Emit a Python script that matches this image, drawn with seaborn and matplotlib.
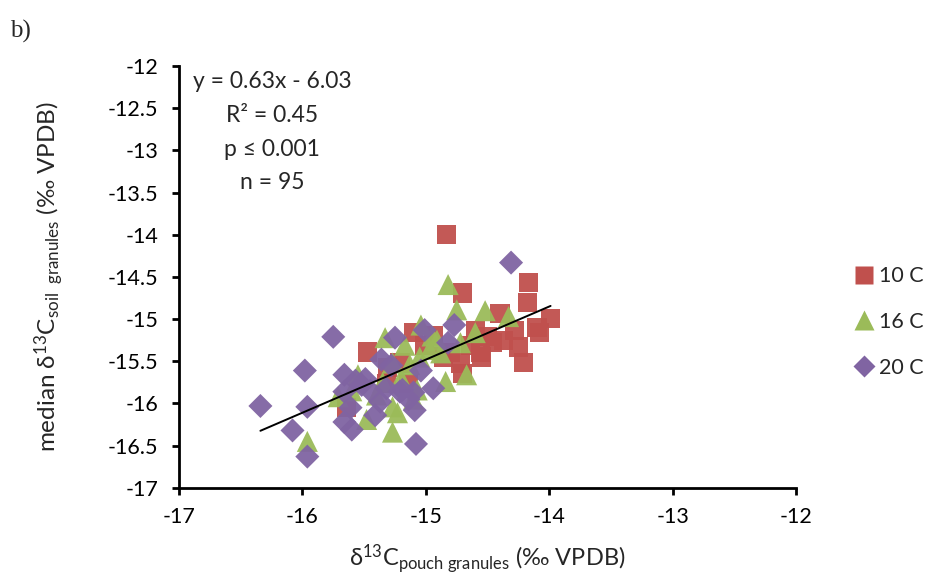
import matplotlib
matplotlib.use("Agg")
import matplotlib.pyplot as plt
import seaborn as sns
import pandas as pd
import numpy as np
from matplotlib.lines import Line2D

# ---- data ----
x_10C = [-14.83, -14.70, -14.17, -14.18, -14.40, -13.99, -14.10, -14.25, -14.21,
         -15.10, -14.94, -14.86, -14.72, -14.56, -14.46, -14.60, -15.31, -15.14,
         -15.47, -15.32, -15.64, -15.21, -14.70, -14.37, -14.08, -14.50, -14.64,
         -15.01, -14.28, -14.80, -14.55]
y_10C = [-14.00, -14.69, -14.57, -14.80, -14.93, -14.99, -15.10, -15.33, -15.51,
         -15.16, -15.19, -15.45, -15.52, -15.39, -15.28, -15.13, -15.57, -15.76,
         -15.39, -15.76, -16.05, -15.52, -15.64, -15.25, -15.16, -15.21, -15.31,
         -15.31, -15.13, -15.40, -15.45]

x_16C = [-15.96, -15.71, -15.48, -15.27, -15.27, -15.33, -15.27, -15.23, -14.82,
         -14.75, -14.52, -14.33, -15.04, -14.91, -14.60, -14.67, -14.84, -15.17,
         -15.07, -14.72, -15.13, -14.97, -15.55, -15.40, -15.20, -14.88, -15.10,
         -15.60, -14.95, -15.35, -15.05]
y_16C = [-16.45, -15.92, -16.19, -16.34, -16.04, -15.22, -15.52, -16.11, -14.59,
         -14.89, -14.90, -14.97, -15.07, -15.25, -15.16, -15.66, -15.74, -15.31,
         -15.84, -15.28, -15.54, -15.36, -15.66, -15.90, -15.70, -15.40, -15.95,
         -15.85, -15.20, -15.75, -15.45]

x_20C = [-16.34, -16.08, -15.96, -15.98, -15.96, -15.75, -15.66, -15.57, -15.49,
         -15.36, -15.25, -15.32, -15.66, -15.61, -15.37, -15.41, -15.66, -15.60,
         -15.21, -14.31, -15.01, -14.77, -14.82, -15.04, -14.94, -15.19, -15.10,
         -15.09, -15.08, -15.45, -15.52, -15.14, -15.28]
y_20C = [-16.03, -16.32, -16.63, -15.61, -16.04, -15.21, -15.66, -15.73, -15.71,
         -15.48, -15.22, -15.82, -15.86, -16.05, -15.98, -16.14, -16.22, -16.31,
         -15.86, -14.33, -15.13, -15.07, -15.28, -15.61, -15.82, -15.84, -15.87,
         -16.08, -16.48, -15.85, -15.78, -15.95, -15.55]

groups = ["10 C", "16 C", "20 C"]
slope, intercept = 0.63, -6.03
x_ticks = [-17, -16, -15, -14, -13, -12]
y_ticks = [-12, -12.5, -13, -13.5, -14, -14.5, -15, -15.5, -16, -16.5, -17]

df = pd.concat([
    pd.DataFrame({"x": x_10C, "y": y_10C, "g": groups[0]}),
    pd.DataFrame({"x": x_16C, "y": y_16C, "g": groups[1]}),
    pd.DataFrame({"x": x_20C, "y": y_20C, "g": groups[2]}),
], ignore_index=True)

colors = {"10 C": "#C0504D", "16 C": "#9BBB59", "20 C": "#8064A2"}
markers = {"10 C": "s", "16 C": "^", "20 C": "D"}
sizes = {"10 C": 190, "16 C": 230, "20 C": 150}

sns.set_style("white")
plt.rcParams['font.family'] = ['Lato', 'DejaVu Sans']
plt.rcParams['mathtext.fontset'] = 'custom'
plt.rcParams['mathtext.rm'] = 'Lato'
plt.rcParams['mathtext.it'] = 'Lato:italic'
plt.rcParams['mathtext.bf'] = 'Lato:bold'

fig = plt.figure(figsize=(9.27, 5.8), dpi=100)
ax = fig.add_axes([0.193, 0.159, 0.666, 0.727])

for g in groups:
    sub = df[df.g == g]
    sns.scatterplot(data=sub, x="x", y="y", marker=markers[g], s=sizes[g],
                    color=colors[g], edgecolor="none", alpha=0.95, ax=ax,
                    legend=False, zorder=2)

# trendline from the reported equation, over the data range
xl = np.array([df.x.min(), df.x.max()])
line_df = pd.DataFrame({"x": xl, "y": slope * xl + intercept})
sns.lineplot(data=line_df, x="x", y="y", color="black", linewidth=1.4, ax=ax, zorder=3)

ax.set_xlim(-17, -12)
ax.set_ylim(-17, -12)
ax.set_xticks(x_ticks)
ax.set_xticklabels([f"{t:g}" for t in x_ticks])
ax.set_yticks(y_ticks)
ax.set_yticklabels([f"{t:g}" for t in y_ticks])
for s in ["top", "right"]:
    ax.spines[s].set_visible(False)
for s in ["left", "bottom"]:
    ax.spines[s].set_color("black")
    ax.spines[s].set_linewidth(2.0)
ax.tick_params(axis="both", direction="out", length=5, width=2.0, color="black",
               labelsize=15.5, labelcolor="black", left=True, bottom=True)
ax.tick_params(axis="x", pad=9)
ax.tick_params(axis="y", pad=10)

ax.set_xlabel(r"δ$^{13}$C$_{\mathrm{pouch\ granules}}$ (‰ VPDB)", fontsize=17, labelpad=11)
ax.set_ylabel(r"median δ$^{13}$C$_{\mathrm{soil\ \ granules}}$ (‰ VPDB)", fontsize=17.5, labelpad=30)

# equation box
stats_lines = ["y = 0.63x - 6.03", "R² = 0.45", "p ≤ 0.001", "n = 95"]
for i, t in enumerate(stats_lines):
    fig.text(272 / 927, 1 - (82 + 33.5 * i) / 580, t, ha="center", va="center",
             fontsize=16.5)

# panel label
fig.text(10 / 927, 1 - 31 / 580, "b)", ha="left", va="center", fontsize=18,
         family=["Liberation Serif", "DejaVu Serif"])

# legend
handles = [Line2D([0], [0], marker=markers[g], color="none", markerfacecolor=colors[g],
                  markeredgecolor="none",
                  markersize={"10 C": 13, "16 C": 14, "20 C": 11.5}[g], label=g)
           for g in groups]
fig.legend(handles=handles, loc="center left", bbox_to_anchor=(851 / 927, 1 - 322 / 580),
           frameon=False, fontsize=15.5, labelspacing=1.2, handletextpad=0.1,
           handlelength=1.2, borderpad=0, borderaxespad=0)

fig.savefig("out.png", dpi=100)
